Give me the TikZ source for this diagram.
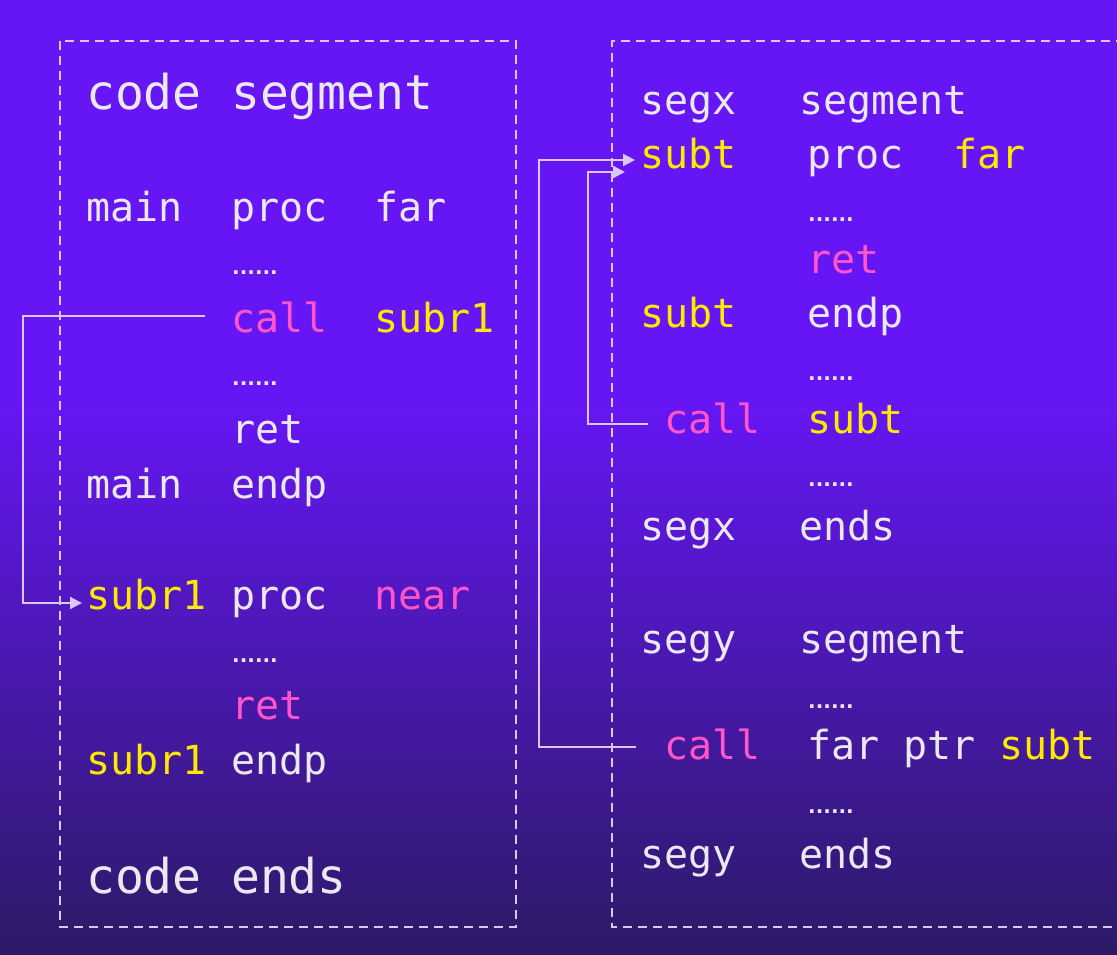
\documentclass[tikz,border=0pt]{standalone}
\usepackage{fontspec}
\setmonofont{DejaVu Sans Mono}
\newfontfamily\dotfont{DejaVu Sans}
\usetikzlibrary{arrows.meta, calc}

\definecolor{bgtop}{HTML}{6616F4}
\definecolor{bgbot}{HTML}{2C1A66}
\definecolor{txtwhite}{HTML}{ECE8F2}
\definecolor{kwyellow}{HTML}{FFE900}
\definecolor{kwpink}{HTML}{FF55C8}
\definecolor{linelav}{HTML}{DCC6F4}

\begin{document}
\begin{tikzpicture}[x=1pt, y=-1pt,
    word/.style={anchor=base west, inner sep=0pt, text=txtwhite, font=\ttfamily\fontsize{40}{48}\selectfont},
    bigword/.style={word, font=\ttfamily\fontsize{48}{56}\selectfont},
    dots/.style={word, font=\dotfont\bfseries\fontsize{20}{22}\selectfont},
    ylw/.style={text=kwyellow},
    pnk/.style={text=kwpink},
    segbox/.style={draw=linelav, line width=2.6pt, dash pattern=on 9pt off 6pt},
    jump/.style={draw=linelav, line width=2.4pt, -{Triangle[length=12pt, width=12pt]}}]

    \useasboundingbox (0,0) rectangle (1117,955);
    \fill[bgtop] (0,0) rectangle (1117,401);
    \shade[top color=bgtop, bottom color=bgbot] (0,400) rectangle (1117,955);

    %% segment boxes
    \draw[segbox] (60,41) rectangle (516,927);
    \draw[segbox] (1125,41) -| (612,927) -- (1125,927);

    %% code segment
    \node[bigword] (codeA) at (86,110) {code};
    \node[bigword] (codeB) at (231,110) {segment};
    \node[word] (mainA) at (86,222) {main};
    \node[word] (mainB) at (231,222) {proc};
    \node[word] (mainC) at (374,222) {far};
    \node[dots] (dotsA) at (232,274) {......};
    \node[word, pnk] (callA) at (231,332) {call};
    \node[word, ylw] (callB) at (374,332) {subr1};
    \node[dots] (dotsB) at (232,385) {......};
    \node[word] (retA) at (231,443) {ret};
    \node[word] (endA) at (86,498) {main};
    \node[word] (endB) at (231,498) {endp};
    \node[word, ylw] (subrA) at (86,609) {subr1};
    \node[word] (subrB) at (231,609) {proc};
    \node[word, pnk] (subrC) at (374,609) {near};
    \node[dots] (dotsC) at (232,662) {......};
    \node[word, pnk] (retB) at (231,719) {ret};
    \node[word, ylw] (endC) at (86,774) {subr1};
    \node[word] (endD) at (231,774) {endp};
    \node[bigword] (codeC) at (86,893) {code};
    \node[bigword] (codeD) at (231,893) {ends};

    %% segx
    \node[word] (segxA) at (640,115) {segx};
    \node[word] (segxB) at (799,115) {segment};
    \node[word, ylw] (subtA) at (640,168) {subt};
    \node[word] (subtB) at (807,168) {proc};
    \node[word, ylw] (subtC) at (953,168) {far};
    \node[dots] (dotsD) at (808,221) {......};
    \node[word, pnk] (retC) at (807,273) {ret};
    \node[word, ylw] (subtD) at (640,327) {subt};
    \node[word] (subtE) at (807,327) {endp};
    \node[dots] (dotsE) at (808,380) {......};
    \node[word, pnk] (callC) at (664,433) {call};
    \node[word, ylw] (callD) at (807,433) {subt};
    \node[dots] (dotsF) at (808,486) {......};
    \node[word] (segxC) at (640,540) {segx};
    \node[word] (segxD) at (799,540) {ends};

    %% segy
    \node[word] (segyA) at (640,653) {segy};
    \node[word] (segyB) at (799,653) {segment};
    \node[dots] (dotsG) at (808,708) {......};
    \node[word, pnk] (callE) at (664,759) {call};
    \node[word] (callF) at (807,759) {far ptr};
    \node[word, ylw] (callG) at (999,759) {subt};
    \node[dots] (dotsH) at (808,813) {......};
    \node[word] (segyC) at (640,868) {segy};
    \node[word] (segyD) at (799,868) {ends};

    %% near call
    \draw[jump] ($(callA.base west)+(-26,-16)$) -- ($(callA.base west)+(-208,-16)$)
        |- ($(subrA.base west)+(-4,-6)$);
    %% far call
    \draw[jump] ($(callE.base west)+(-28,-12)$) -- ($(callE.base west)+(-125,-12)$)
        |- ($(subtA.base west)+(-5,-8)$);
    %% call in segx
    \draw[jump] ($(callC.base west)+(-16,-9)$) -- ($(callC.base west)+(-76,-9)$)
        |- ($(subtA.base west)+(-15,4)$);
\end{tikzpicture}
\end{document}
